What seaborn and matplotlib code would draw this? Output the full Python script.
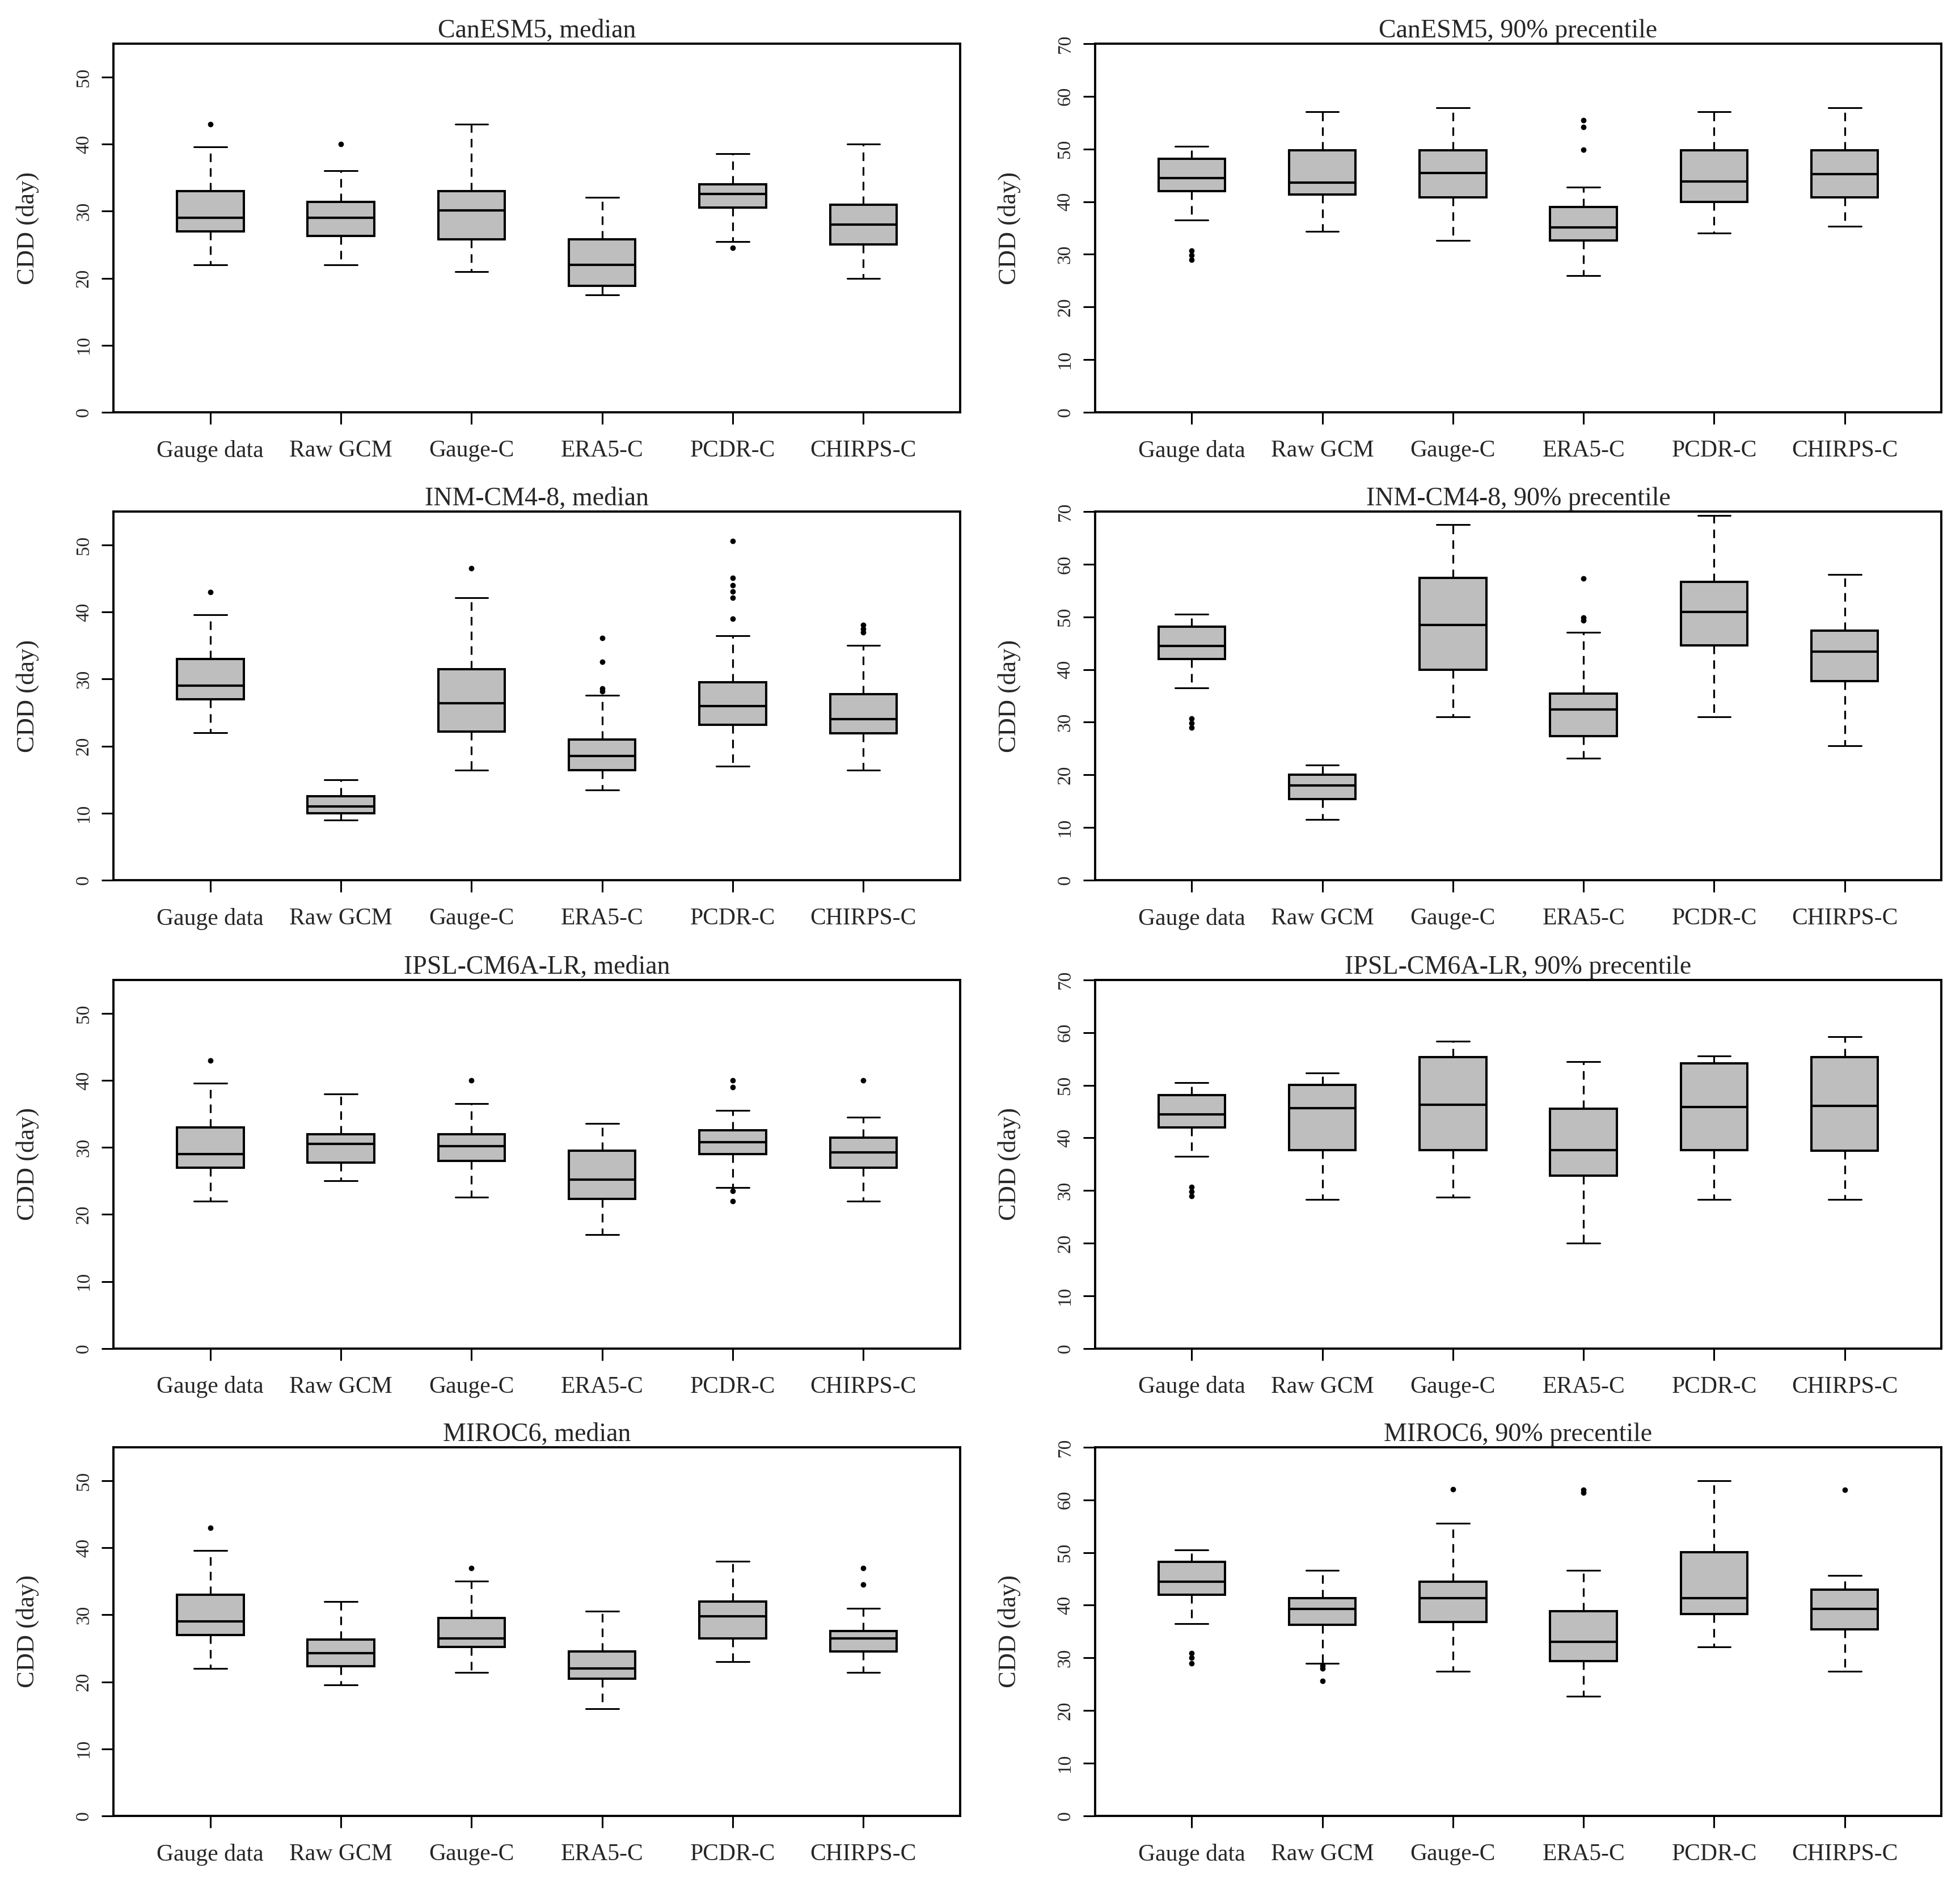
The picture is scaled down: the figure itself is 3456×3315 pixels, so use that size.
import matplotlib
matplotlib.use("Agg")
import matplotlib.pyplot as plt
import seaborn as sns

# categories on the x axis
categories = ["Gauge data", "Raw GCM", "Gauge-C", "ERA5-C", "PCDR-C", "CHIRPS-C"]

# box stats per category: [lower whisker, Q1, median, Q3, upper whisker]
canesm5_median = [
    [22.0, 27.0, 29.0, 33.0, 39.6],
    [22.0, 26.3, 29.0, 31.4, 36.0],
    [21.0, 25.8, 30.1, 33.0, 43.0],
    [17.5, 18.9, 22.0, 25.8, 32.1],
    [25.5, 30.5, 32.6, 34.0, 38.6],
    [20.0, 25.0, 28.0, 31.0, 40.0],
]
canesm5_median_out = [[43.0], [40.0], [], [], [24.5], []]

canesm5_p90 = [
    [36.5, 42.0, 44.5, 48.15, 50.5],
    [34.4, 41.3, 43.6, 49.8, 57.1],
    [32.6, 40.8, 45.4, 49.8, 57.8],
    [25.9, 32.6, 35.1, 39.0, 42.7],
    [34.0, 39.9, 43.8, 49.8, 57.1],
    [35.3, 40.8, 45.2, 49.8, 57.8],
]
canesm5_p90_out = [[29.0, 29.8, 30.7], [], [], [49.9, 54.2, 55.4], [], []]

inm_median = [
    [22.0, 27.0, 29.0, 33.0, 39.6],
    [9.0, 10.0, 11.0, 12.5, 15.0],
    [16.4, 22.2, 26.4, 31.5, 42.1],
    [13.5, 16.4, 18.5, 21.0, 27.6],
    [17.0, 23.2, 26.0, 29.5, 36.5],
    [16.4, 21.9, 24.0, 27.75, 35.0],
]
inm_median_out = [[43.0], [], [46.5], [28.2, 28.6, 32.6, 36.1],
                  [39.0, 42.1, 43.1, 44.0, 45.1, 50.6], [37.0, 37.5, 38.1]]

inm_p90 = [
    [36.5, 42.0, 44.5, 48.15, 50.5],
    [11.5, 15.4, 18.0, 20.0, 21.9],
    [31.0, 40.0, 48.5, 57.4, 67.5],
    [23.2, 27.4, 32.4, 35.4, 47.1],
    [31.0, 44.6, 50.9, 56.7, 69.3],
    [25.5, 37.8, 43.4, 47.4, 58.1],
]
inm_p90_out = [[29.0, 29.8, 30.7], [], [], [49.3, 49.9, 57.3], [], []]

ipsl_median = [
    [22.0, 27.0, 29.0, 33.0, 39.6],
    [25.0, 27.75, 30.5, 32.0, 38.0],
    [22.6, 28.0, 30.2, 32.0, 36.5],
    [17.0, 22.3, 25.2, 29.5, 33.6],
    [24.0, 29.0, 30.8, 32.6, 35.5],
    [22.0, 27.0, 29.3, 31.5, 34.5],
]
ipsl_median_out = [[43.0], [], [40.0], [], [22.0, 23.5, 39.0, 40.0], [40.0]]

ipsl_p90 = [
    [36.5, 42.0, 44.5, 48.15, 50.5],
    [28.3, 37.7, 45.6, 50.1, 52.3],
    [28.7, 37.7, 46.3, 55.3, 58.3],
    [20.0, 32.8, 37.7, 45.5, 54.5],
    [28.3, 37.7, 45.9, 54.1, 55.5],
    [28.3, 37.6, 46.1, 55.3, 59.2],
]
ipsl_p90_out = [[29.0, 29.8, 30.7], [], [], [], [], []]

miroc_median = [
    [22.0, 27.0, 29.0, 33.0, 39.6],
    [19.5, 22.3, 24.25, 26.3, 32.0],
    [21.4, 25.2, 26.45, 29.5, 35.0],
    [16.0, 20.5, 22.0, 24.5, 30.5],
    [23.0, 26.45, 29.8, 32.0, 38.0],
    [21.4, 24.5, 26.45, 27.6, 31.0],
]
miroc_median_out = [[43.0], [], [37.0], [], [], [34.5, 37.0]]

miroc_p90 = [
    [36.5, 42.0, 44.5, 48.2, 50.5],
    [29.0, 36.3, 39.35, 41.3, 46.6],
    [27.45, 36.8, 41.3, 44.5, 55.6],
    [22.7, 29.4, 33.1, 38.9, 46.6],
    [32.1, 38.3, 41.3, 50.1, 63.6],
    [27.45, 35.4, 39.35, 43.0, 45.6],
]
miroc_p90_out = [[29.0, 30.0, 30.9], [25.6, 28.0, 28.5], [62.0], [61.4, 61.9], [], [61.9]]

panels = [
    ("CanESM5, median", canesm5_median, canesm5_median_out, 55, 50),
    ("CanESM5, 90% precentile", canesm5_p90, canesm5_p90_out, 70, 70),
    ("INM-CM4-8, median", inm_median, inm_median_out, 55, 50),
    ("INM-CM4-8, 90% precentile", inm_p90, inm_p90_out, 70, 70),
    ("IPSL-CM6A-LR, median", ipsl_median, ipsl_median_out, 55, 50),
    ("IPSL-CM6A-LR, 90% precentile", ipsl_p90, ipsl_p90_out, 70, 70),
    ("MIROC6, median", miroc_median, miroc_median_out, 55, 50),
    ("MIROC6, 90% precentile", miroc_p90, miroc_p90_out, 70, 70),
]

sns.set_theme(style="ticks")
plt.rcParams["font.family"] = ["Liberation Serif", "DejaVu Serif"]

fig = plt.figure(figsize=(34.56, 33.15), dpi=100)

col_left = [0.058, 0.5587]
ax_w = 0.4318
row_bottom = [0.7807, 0.5318, 0.2827, 0.0341]
ax_h = 0.1961

for i, (title, stats, outs, ymax, ytop) in enumerate(panels):
    ax = fig.add_axes([col_left[i % 2], row_bottom[i // 2], ax_w, ax_h])
    bxp_stats = []
    for s, o in zip(stats, outs):
        bxp_stats.append(dict(whislo=s[0], q1=s[1], med=s[2], q3=s[3], whishi=s[4], fliers=o))
    ax.bxp(bxp_stats, positions=range(1, 7), widths=0.51, capwidths=0.25,
           patch_artist=True, showfliers=True,
           boxprops=dict(facecolor="#BEBEBE", edgecolor="black", linewidth=2.9),
           medianprops=dict(color="black", linewidth=3.0),
           whiskerprops=dict(color="black", linewidth=2.3, linestyle=(0, (4.7, 3.4))),
           capprops=dict(color="black", linewidth=2.2),
           flierprops=dict(marker="o", markerfacecolor="black", markeredgecolor="black",
                           markersize=6))
    ax.set_xlim(0.26, 6.74)
    ax.set_ylim(0, ymax)
    ax.set_xticks(range(1, 7))
    ax.set_xticklabels(categories, fontsize=30)
    yt = list(range(0, ytop + 1, 10))
    ax.set_yticks(yt)
    ax.set_yticklabels([str(v) for v in yt], rotation=90, va="center", fontsize=24)
    ax.tick_params(axis="both", length=15, width=2.2, color="black", direction="out")
    ax.tick_params(axis="x", pad=20)
    ax.tick_params(axis="y", pad=12)
    for sp in ax.spines.values():
        sp.set_visible(True)
        sp.set_linewidth(2.8)
        sp.set_color("black")
    ax.set_title(title, fontsize=33, pad=8)
    ax.set_ylabel("CDD (day)", fontsize=32)
    ax.yaxis.set_label_coords(-0.088, 0.5)
    ax.set_facecolor("white")

fig.savefig("out.png", dpi=100, facecolor="white")
